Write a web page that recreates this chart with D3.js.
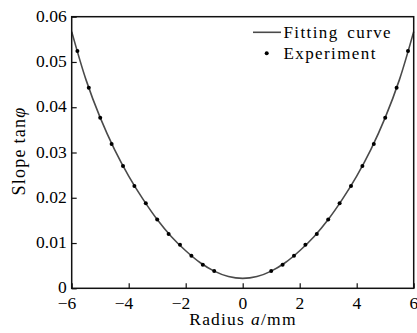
<!DOCTYPE html>
<html>
<head>
<meta charset="utf-8">
<script src="https://cdn.jsdelivr.net/npm/d3@7"></script>
<style>
  body { margin: 0; background: #fff; }
  svg text { font-family: "Liberation Serif", "Times New Roman", serif; fill: #000; }
</style>
</head>
<body>
<svg id="chart" width="417" height="333"></svg>
<script>
// fitting curve
var fitX = [-6, -5.5, -5, -4.5, -4, -3.5, -3, -2.5, -2, -1.5, -1, -0.5, 0,
            0.5, 1, 1.5, 2, 2.5, 3, 3.5, 4, 4.5, 5, 5.5, 6];
var fitY = [0.0567, 0.0461, 0.0377, 0.0307, 0.0248, 0.0197, 0.0152, 0.0114, 0.0083, 0.0057, 0.0038, 0.0026, 0.0022,
            0.0026, 0.0038, 0.0057, 0.0083, 0.0114, 0.0152, 0.0197, 0.0248, 0.0307, 0.0377, 0.0461, 0.0567];

// experiment points
var expX = [-5.8, -5.4, -5.0, -4.6, -4.2, -3.8, -3.4, -3.0, -2.6, -2.2, -1.8, -1.4, -1.0,
            1.0, 1.4, 1.8, 2.2, 2.6, 3.0, 3.4, 3.8, 4.2, 4.6, 5.0, 5.4, 5.8];
var expY = [0.0524, 0.0443, 0.0377, 0.0319, 0.0270, 0.0226, 0.0188, 0.0152, 0.0120, 0.0096, 0.0072, 0.0052, 0.0038,
            0.0038, 0.0052, 0.0072, 0.0096, 0.0120, 0.0152, 0.0188, 0.0226, 0.0270, 0.0319, 0.0377, 0.0443, 0.0524];

var xTicks = [-6, -4, -2, 0, 2, 4, 6];
var yTicks = [0, 0.01, 0.02, 0.03, 0.04, 0.05, 0.06];

(function(){

  var x0 = 71.7, x1 = 413.7, y0 = 16.7, y1 = 288.3;

  var svg = d3.select("#chart");

  var x = d3.scaleLinear().domain([-6, 6]).range([x0, x1]);
  var y = d3.scaleLinear().domain([0, 0.06]).range([y1, y0]);

  // curve
  var line = d3.line()
    .x(function(d){ return x(d[0]); })
    .y(function(d){ return y(d[1]); })
    .curve(d3.curveCatmullRom.alpha(0.5));

  svg.append("path")
    .datum(fitX.map(function(v, i){ return [v, fitY[i]]; }))
    .attr("d", line)
    .attr("fill", "none")
    .attr("stroke", "#4a4a4a")
    .attr("stroke-width", 1.6);

  svg.selectAll("circle.pt")
    .data(expX.map(function(v, i){ return [v, expY[i]]; }))
    .enter().append("circle")
    .attr("class", "pt")
    .attr("cx", function(d){ return x(d[0]); })
    .attr("cy", function(d){ return y(d[1]); })
    .attr("r", 2)
    .attr("fill", "#000");

  // frame
  svg.append("rect")
    .attr("x", x0).attr("y", y0)
    .attr("width", x1 - x0).attr("height", y1 - y0)
    .attr("fill", "none")
    .attr("stroke", "#111")
    .attr("stroke-width", 1.5);

  // x axis, ticks inward
  var xAxis = d3.axisBottom(x).tickValues(xTicks).tickSize(-5).tickFormat("");
  var gx = svg.append("g").attr("transform", "translate(0," + y1 + ")").call(xAxis);
  gx.select(".domain").remove();
  gx.selectAll(".tick line").attr("stroke", "#111").attr("stroke-width", 1.2);

  svg.selectAll("text.xl")
    .data(xTicks)
    .enter().append("text")
    .attr("class", "xl")
    .attr("x", function(d){ return x(d) + 4.6; })
    .attr("y", 308.5)
    .attr("text-anchor", "end")
    .style("font-size", "17.5px")
    .text(function(d){ return d < 0 ? "\u2212" + Math.abs(d) : d; });

  // y axis, ticks inward
  var yAxis = d3.axisLeft(y).tickValues(yTicks).tickSize(-5).tickFormat("");
  var gy = svg.append("g").attr("transform", "translate(" + x0 + ",0)").call(yAxis);
  gy.select(".domain").remove();
  gy.selectAll(".tick line").attr("stroke", "#111").attr("stroke-width", 1.2);

  svg.selectAll("text.yl")
    .data(yTicks)
    .enter().append("text")
    .attr("class", "yl")
    .attr("x", x0 - 5)
    .attr("y", function(d){ return y(d) + 5; })
    .attr("text-anchor", "end")
    .style("font-size", "17.5px")
    .text(function(d){ return d === 0 ? "0" : d3.format(".2f")(d); });

  // axis titles
  var xt = svg.append("text")
    .attr("x", 243)
    .attr("y", 325)
    .attr("text-anchor", "middle")
    .style("font-size", "17.5px")
    .style("letter-spacing", "1.2px");
  xt.append("tspan").text("Radius");
  xt.append("tspan").attr("dx", 6).style("font-style", "italic").text("a");
  xt.append("tspan").text("/mm");

  var yt = svg.append("text")
    .attr("transform", "translate(25,151) rotate(-90)")
    .attr("text-anchor", "middle")
    .style("font-size", "18px")
    .style("letter-spacing", "1.2px");
  yt.append("tspan").text("Slope");
  yt.append("tspan").attr("dx", 5).text("tan");
  yt.append("tspan").style("font-style", "italic").text("\u03c6");

  // legend
  svg.append("line")
    .attr("x1", 253).attr("x2", 281)
    .attr("y1", 32.3).attr("y2", 32.3)
    .attr("stroke", "#4a4a4a")
    .attr("stroke-width", 1.6);
  svg.append("circle")
    .attr("cx", 266.7).attr("cy", 53.3).attr("r", 2).attr("fill", "#000");

  svg.append("text")
    .attr("x", 283.5).attr("y", 37.5)
    .style("font-size", "17px")
    .style("letter-spacing", "1.4px")
    .style("word-spacing", "3px")
    .text("Fitting curve");
  svg.append("text")
    .attr("x", 283.5).attr("y", 58.5)
    .style("font-size", "17px")
    .style("letter-spacing", "1.4px")
    .text("Experiment");

})();
</script>
</body>
</html>
